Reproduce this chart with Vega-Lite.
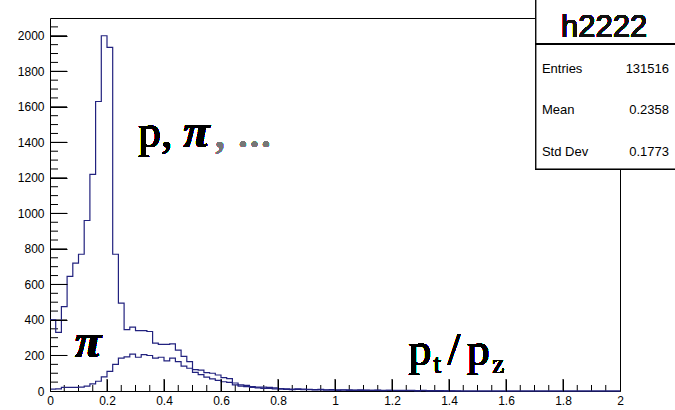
{
  "$schema": "https://vega.github.io/schema/vega-lite/v6.json",
  "autosize": {"type": "none"},
  "padding": {"left": 50, "top": 18, "right": 55, "bottom": 19},
  "width": 570,
  "height": 373,
  "background": "white",
  "config": {
    "view": {"stroke": "#000", "strokeWidth": 1}
  },
  "resolve": {"axis": {"x": "independent", "y": "independent"}},
  "datasets": {
    "xmajor": [{"t": 0.2}, {"t": 0.4}, {"t": 0.6}, {"t": 0.8}, {"t": 1}, {"t": 1.2}, {"t": 1.4}, {"t": 1.6}, {"t": 1.8}],
    "xminor": [{"t": 0.05}, {"t": 0.1}, {"t": 0.15}, {"t": 0.25}, {"t": 0.3}, {"t": 0.35}, {"t": 0.45}, {"t": 0.5}, {"t": 0.55}, {"t": 0.65}, {"t": 0.7}, {"t": 0.75}, {"t": 0.85}, {"t": 0.9}, {"t": 0.95}, {"t": 1.05}, {"t": 1.1}, {"t": 1.15}, {"t": 1.25}, {"t": 1.3}, {"t": 1.35}, {"t": 1.45}, {"t": 1.5}, {"t": 1.55}, {"t": 1.65}, {"t": 1.7}, {"t": 1.75}, {"t": 1.85}, {"t": 1.9}, {"t": 1.95}],
    "ymajor": [{"t": 200}, {"t": 400}, {"t": 600}, {"t": 800}, {"t": 1000}, {"t": 1200}, {"t": 1400}, {"t": 1600}, {"t": 1800}, {"t": 2000}],
    "yminor": [{"t": 50}, {"t": 100}, {"t": 150}, {"t": 250}, {"t": 300}, {"t": 350}, {"t": 450}, {"t": 500}, {"t": 550}, {"t": 650}, {"t": 700}, {"t": 750}, {"t": 850}, {"t": 900}, {"t": 950}, {"t": 1050}, {"t": 1100}, {"t": 1150}, {"t": 1250}, {"t": 1300}, {"t": 1350}, {"t": 1450}, {"t": 1500}, {"t": 1550}, {"t": 1650}, {"t": 1700}, {"t": 1750}, {"t": 1850}, {"t": 1900}, {"t": 1950}, {"t": 2050}]
  },
  "data": {"values": [
    {"x": 0, "a": 400, "b": 10}, {"x": 0.02, "a": 330, "b": 12}, {"x": 0.04, "a": 475, "b": 20}, {"x": 0.06, "a": 645, "b": 20},
    {"x": 0.08, "a": 720, "b": 20}, {"x": 0.1, "a": 770, "b": 22}, {"x": 0.12, "a": 960, "b": 28}, {"x": 0.14, "a": 1220, "b": 40},
    {"x": 0.16, "a": 1630, "b": 55}, {"x": 0.18, "a": 2000, "b": 80}, {"x": 0.2, "a": 1935, "b": 110}, {"x": 0.22, "a": 770, "b": 150},
    {"x": 0.24, "a": 495, "b": 185}, {"x": 0.26, "a": 345, "b": 192}, {"x": 0.28, "a": 360, "b": 208}, {"x": 0.3, "a": 340, "b": 190},
    {"x": 0.32, "a": 340, "b": 205}, {"x": 0.34, "a": 335, "b": 200}, {"x": 0.36, "a": 270, "b": 185}, {"x": 0.38, "a": 262, "b": 190},
    {"x": 0.4, "a": 262, "b": 170}, {"x": 0.42, "a": 265, "b": 185}, {"x": 0.44, "a": 230, "b": 165}, {"x": 0.46, "a": 195, "b": 140},
    {"x": 0.48, "a": 165, "b": 128}, {"x": 0.5, "a": 120, "b": 105}, {"x": 0.52, "a": 118, "b": 92}, {"x": 0.54, "a": 103, "b": 78},
    {"x": 0.56, "a": 100, "b": 68}, {"x": 0.58, "a": 90, "b": 60}, {"x": 0.6, "a": 75, "b": 52}, {"x": 0.62, "a": 70, "b": 48},
    {"x": 0.64, "a": 45, "b": 35}, {"x": 0.66, "a": 35, "b": 28}, {"x": 0.68, "a": 32, "b": 25}, {"x": 0.7, "a": 25, "b": 20},
    {"x": 0.72, "a": 22, "b": 18}, {"x": 0.74, "a": 22, "b": 15}, {"x": 0.76, "a": 20, "b": 14}, {"x": 0.78, "a": 18, "b": 12},
    {"x": 0.8, "a": 14, "b": 10}, {"x": 0.82, "a": 12, "b": 9}, {"x": 0.84, "a": 11, "b": 8}, {"x": 0.86, "a": 12, "b": 9},
    {"x": 0.88, "a": 10, "b": 7}, {"x": 0.9, "a": 9, "b": 7}, {"x": 0.92, "a": 8, "b": 6}, {"x": 0.94, "a": 9, "b": 6},
    {"x": 0.96, "a": 7, "b": 5}, {"x": 0.98, "a": 8, "b": 5}, {"x": 1.0, "a": 6, "b": 4}, {"x": 1.02, "a": 7, "b": 5},
    {"x": 1.04, "a": 6, "b": 4}, {"x": 1.06, "a": 5, "b": 3}, {"x": 1.08, "a": 6, "b": 4}, {"x": 1.1, "a": 5, "b": 3},
    {"x": 1.12, "a": 4, "b": 3}, {"x": 1.14, "a": 5, "b": 3}, {"x": 1.16, "a": 4, "b": 2}, {"x": 1.18, "a": 4, "b": 3},
    {"x": 1.2, "a": 3, "b": 2}, {"x": 1.22, "a": 4, "b": 2}, {"x": 1.24, "a": 3, "b": 2}, {"x": 1.26, "a": 3, "b": 2},
    {"x": 1.28, "a": 2, "b": 1}, {"x": 1.3, "a": 3, "b": 2}, {"x": 1.32, "a": 2, "b": 1}, {"x": 1.34, "a": 2, "b": 1},
    {"x": 1.36, "a": 2, "b": 1}, {"x": 1.38, "a": 1, "b": 1}, {"x": 1.4, "a": 1, "b": 1}, {"x": 1.42, "a": 1, "b": 0},
    {"x": 1.44, "a": 0, "b": 0}, {"x": 1.46, "a": 0, "b": 0}, {"x": 1.48, "a": 0, "b": 0}, {"x": 1.5, "a": 0, "b": 0},
    {"x": 1.52, "a": 0, "b": 0}, {"x": 1.54, "a": 0, "b": 0}, {"x": 1.56, "a": 0, "b": 0}, {"x": 1.58, "a": 0, "b": 0},
    {"x": 1.6, "a": 0, "b": 0}, {"x": 1.62, "a": 0, "b": 0}, {"x": 1.64, "a": 0, "b": 0}, {"x": 1.66, "a": 0, "b": 0},
    {"x": 1.68, "a": 0, "b": 0}, {"x": 1.7, "a": 0, "b": 0}, {"x": 1.72, "a": 0, "b": 0}, {"x": 1.74, "a": 0, "b": 0},
    {"x": 1.76, "a": 0, "b": 0}, {"x": 1.78, "a": 0, "b": 0}, {"x": 1.8, "a": 0, "b": 0}, {"x": 1.82, "a": 0, "b": 0},
    {"x": 1.84, "a": 0, "b": 0}, {"x": 1.86, "a": 0, "b": 0}, {"x": 1.88, "a": 0, "b": 0}, {"x": 1.9, "a": 0, "b": 0},
    {"x": 1.92, "a": 0, "b": 0}, {"x": 1.94, "a": 0, "b": 0}, {"x": 1.96, "a": 0, "b": 0}, {"x": 1.98, "a": 0, "b": 0},
    {"x": 2.0, "a": 0, "b": 0}
  ]},
  "layer": [
    {
      "data": {"name": "xmajor"},
      "mark": {"type": "rule", "color": "#000", "strokeWidth": 1},
      "encoding": {"x": {"field": "t", "type": "quantitative", "axis": null}, "y": {"datum": 0, "axis": null}, "y2": {"datum": 67.6}}
    },
    {
      "data": {"name": "xminor"},
      "mark": {"type": "rule", "color": "#000", "strokeWidth": 1},
      "encoding": {"x": {"field": "t", "type": "quantitative", "axis": null}, "y": {"datum": 0, "axis": null}, "y2": {"datum": 33.8}}
    },
    {
      "data": {"name": "ymajor"},
      "mark": {"type": "rule", "color": "#000", "strokeWidth": 1},
      "encoding": {"y": {"field": "t", "type": "quantitative", "axis": null}, "x": {"datum": 0, "axis": null}, "x2": {"datum": 0.0598}}
    },
    {
      "data": {"name": "yminor"},
      "mark": {"type": "rule", "color": "#000", "strokeWidth": 1},
      "encoding": {"y": {"field": "t", "type": "quantitative", "axis": null}, "x": {"datum": 0, "axis": null}, "x2": {"datum": 0.0281}}
    },
    {
      "transform": [{"fold": ["a", "b"], "as": ["series", "count"]}],
      "mark": {"type": "line", "interpolate": "step-after", "color": "#22227f", "strokeWidth": 1.2},
      "encoding": {
        "detail": {"field": "series", "type": "nominal"},
        "x": {"field": "x", "type": "quantitative",
          "scale": {"domain": [0, 2], "nice": false, "zero": false},
          "axis": {
            "orient": "bottom", "title": null, "grid": false, "domain": false, "zindex": 1,
            "values": [0,0.2,0.4,0.6,0.8,1,1.2,1.4,1.6,1.8,2],
            "format": "~g", "ticks": true, "tickSize": 12, "offset": -12, "tickColor": "#000", "tickWidth": 1,
            "labelPadding": 4, "labelOverlap": false, "labelFlush": false, "labelBound": false,
            "labelFont": "Liberation Sans", "labelFontSize": 12, "labelColor": "#000"
          }
        },
        "y": {"field": "count", "type": "quantitative",
          "scale": {"domain": [0, 2100], "nice": false},
          "axis": {
            "orient": "left", "title": null, "grid": false, "domain": false, "zindex": 1,
            "values": [0,200,400,600,800,1000,1200,1400,1600,1800,2000],
            "format": "d", "ticks": true, "tickSize": 17, "offset": -17, "tickColor": "#000", "tickWidth": 1,
            "labelPadding": 6, "labelOverlap": false, "labelFlush": false, "labelBound": false,
            "labelFont": "Liberation Sans", "labelFontSize": 12, "labelColor": "#000"
          }
        }
      }
    },
    {
      "mark": {"type": "text", "text": "p,", "font": "Liberation Serif", "fontSize": 46, "align": "left", "baseline": "alphabetic", "color": "#000"},
      "encoding": {"x": {"datum": 0.309, "axis": null}, "y": {"datum": 1374, "axis": null}}
    },
    {
      "mark": {"type": "text", "text": "π", "font": "Liberation Serif", "fontWeight": "bold", "fontStyle": "italic", "fontSize": 48, "align": "left", "baseline": "alphabetic", "color": "#000"},
      "encoding": {"x": {"datum": 0.4675, "axis": null}, "y": {"datum": 1374, "axis": null}}
    },
    {
      "mark": {"type": "text", "text": ", ...", "font": "Liberation Serif", "fontSize": 46, "align": "left", "baseline": "alphabetic", "color": "#777777"},
      "encoding": {"x": {"datum": 0.5765, "axis": null}, "y": {"datum": 1374, "axis": null}}
    },
    {
      "mark": {"type": "text", "text": "π", "font": "Liberation Serif", "fontWeight": "bold", "fontStyle": "italic", "fontSize": 48, "align": "left", "baseline": "alphabetic", "color": "#000"},
      "encoding": {"x": {"datum": 0.088, "axis": null}, "y": {"datum": 191, "axis": null}}
    },
    {
      "mark": {"type": "text", "text": "p", "font": "Liberation Serif", "fontSize": 46, "align": "left", "baseline": "alphabetic", "color": "#000"},
      "encoding": {"x": {"datum": 1.258, "axis": null}, "y": {"datum": 146, "axis": null}}
    },
    {
      "mark": {"type": "text", "text": "t", "font": "Liberation Serif", "fontSize": 27, "align": "left", "baseline": "alphabetic", "color": "#000"},
      "encoding": {"x": {"datum": 1.346, "axis": null}, "y": {"datum": 101, "axis": null}}
    },
    {
      "mark": {"type": "text", "text": "/", "font": "Liberation Serif", "fontSize": 46, "align": "left", "baseline": "alphabetic", "color": "#000"},
      "encoding": {"x": {"datum": 1.395, "axis": null}, "y": {"datum": 146, "axis": null}}
    },
    {
      "mark": {"type": "text", "text": "p", "font": "Liberation Serif", "fontSize": 46, "align": "left", "baseline": "alphabetic", "color": "#000"},
      "encoding": {"x": {"datum": 1.462, "axis": null}, "y": {"datum": 146, "axis": null}}
    },
    {
      "mark": {"type": "text", "text": "z", "font": "Liberation Serif", "fontSize": 27, "align": "left", "baseline": "alphabetic", "color": "#000"},
      "encoding": {"x": {"datum": 1.552, "axis": null}, "y": {"datum": 101, "axis": null}}
    },
    {
      "mark": {"type": "rect", "fill": "white", "stroke": "#000", "strokeWidth": 1},
      "encoding": {"x": {"datum": 1.705, "axis": null}, "x2": {"datum": 2.21}, "y": {"datum": 2230, "axis": null}, "y2": {"datum": 1250}}
    },
    {
      "mark": {"type": "rule", "color": "#000", "strokeWidth": 1},
      "encoding": {"x": {"datum": 1.705, "axis": null}, "x2": {"datum": 2.21}, "y": {"datum": 1954, "axis": null}}
    },
    {
      "mark": {"type": "text", "text": "h2222", "font": "Liberation Sans", "fontSize": 31, "align": "center", "baseline": "alphabetic", "color": "#111"},
      "encoding": {"x": {"datum": 1.944, "axis": null}, "y": {"datum": 1995, "axis": null}}
    },
    {
      "data": {"values": [
        {"k": "Entries", "v": "131516", "r": 1790},
        {"k": "Mean", "v": "0.2358", "r": 1560},
        {"k": "Std Dev", "v": "0.1773", "r": 1323}
      ]},
      "layer": [
        {
          "mark": {"type": "text", "font": "Liberation Sans", "fontSize": 13, "align": "left", "baseline": "alphabetic", "color": "#000"},
          "encoding": {"x": {"datum": 1.726, "axis": null}, "y": {"field": "r", "type": "quantitative", "axis": null}, "text": {"field": "k"}}
        },
        {
          "mark": {"type": "text", "font": "Liberation Sans", "fontSize": 13, "align": "right", "baseline": "alphabetic", "color": "#000"},
          "encoding": {"x": {"datum": 2.172, "axis": null}, "y": {"field": "r", "type": "quantitative", "axis": null}, "text": {"field": "v"}}
        }
      ]
    }
  ]
}
